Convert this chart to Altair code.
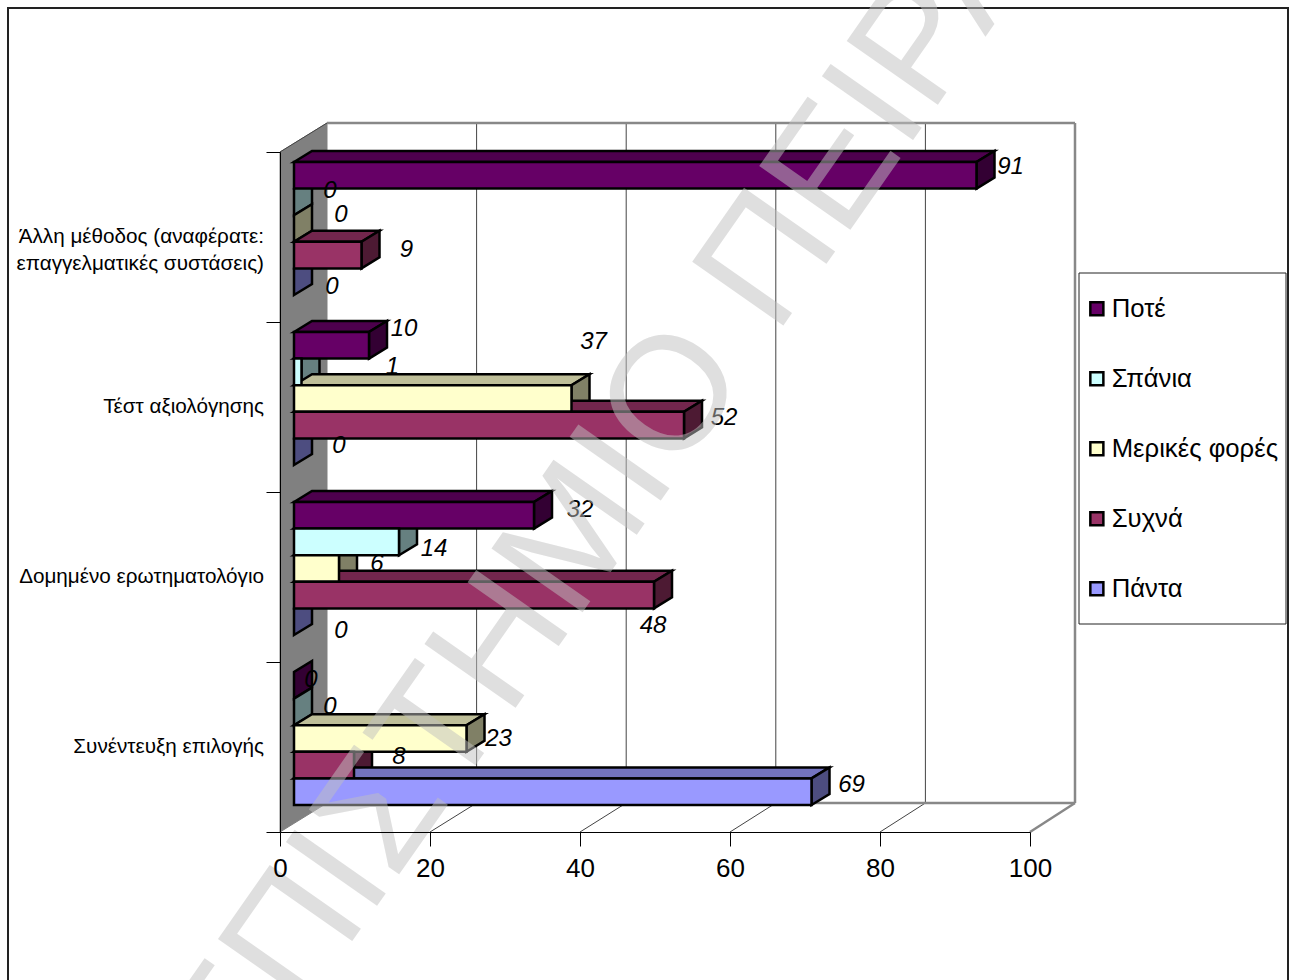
import altair as alt
import pandas as pd

# Survey answers per selection method
categories = ["Συνέντευξη επιλογής", "Δομημένο ερωτηματολόγιο", "Τέστ αξιολόγησης",
              "Άλλη μέθοδος (αναφέρατε:\nεπαγγελματικές συστάσεις)"]
series = ["Πάντα", "Συχνά", "Μερικές φορές", "Σπάνια", "Ποτέ"]
always = [69, 0, 0, 0]
often = [8, 48, 52, 9]
sometimes = [23, 6, 37, 0]
rarely = [0, 14, 1, 0]
never = [0, 32, 10, 91]
values = [always, often, sometimes, rarely, never]
axis_ticks = [0, 20, 40, 60, 80, 100]

front_colours = ["#9999ff", "#993366", "#ffffcc", "#ccffff", "#660066"]
top_colours = ["#7373bf", "#73264d", "#bfbf99", "#99bfbf", "#4d004d"]
side_colours = ["#4d4d80", "#4d1a33", "#808066", "#668080", "#330033"]

# Pixel nudges for the value labels, relative to each bar's end (category, then series)
label_dx = [[40, 45, 32, 36, 17], [47, -1, 38, 35, 46], [45, 40, 22, 91, 35], [38, 45, 47, 36, 34]]
label_dy = [[-7, -8, 0, -5, -5], [9, 31, -5, 7, -5], [-6, -7, -57, -5, -16], [5, -5, -14, -11, -8]]

# Scales: one x unit is 7.5 px, one category slot is 170 px
PX_X = 7.5
PX_Y = 170.0
xs = alt.Scale(domain=[0, 100], range=[280, 1030])
ys = alt.Scale(domain=[0, 4], range=[832, 152])

x_axis = alt.Axis(values=axis_ticks, grid=False, title=None, offset=-148, zindex=1,
                  labelFontSize=26, labelFont="Liberation Sans", labelColor="black",
                  labelPadding=9, tickSize=14, tickColor="black", domainColor="black",
                  labelFlush=False, labelOverlap=False)
y_axis = alt.Axis(values=[0, 1, 2, 3, 4], grid=False, title=None, offset=-280, zindex=1,
                  labels=False, tickSize=14, tickColor="black", domainColor="black")

WALL_DX = 47 / PX_X
WALL_DY = 29 / PX_Y
BACK_SCALE = 748 / 750
BAR_X0 = 14 / PX_X
BAR_DX = 18 / PX_X
BAR_DY = 11 / PX_Y
BAR_H = 26.6 / PX_Y
BAR_Y0 = 27 / PX_Y

# Upper and end faces are painted first, front faces last, so fronts hide what is behind them
back_faces = []
front_faces = []


def add_face(store, colour, samples):
    fid = f"{'b' if store is back_faces else 'f'}{len(store):03d}"
    for x, y, y2 in samples:
        store.append({"face": fid, "fill": colour, "x": x, "y": y, "y2": y2})


for c in range(3, -1, -1):
    for s in range(4, -1, -1):
        v = values[s][c]
        lo = c + BAR_Y0 + s * BAR_H
        hi = lo + BAR_H
        x0 = BAR_X0
        x1 = BAR_X0 + v
        if v > 0:
            # upper face: a sheared band that may be shorter than the depth
            pts = sorted({x0, x1, x0 + BAR_DX, x1 + BAR_DX})
            add_face(back_faces, top_colours[s], [
                (p,
                 hi + BAR_DY * min((p - x0) / BAR_DX, 1),
                 hi + BAR_DY * max((p - x1) / BAR_DX, 0)) for p in pts])
            add_face(front_faces, front_colours[s], [(x0, lo, hi), (x1, lo, hi)])
        add_face(back_faces, side_colours[s], [(x1, lo, hi), (x1 + BAR_DX, lo + BAR_DY, hi + BAR_DY)])

face_df = pd.DataFrame(back_faces + front_faces)

label_rows = []
for c in range(4):
    for s in range(5):
        v = values[s][c]
        label_rows.append({
            "x": BAR_X0 + v + label_dx[c][s] / PX_X,
            "y": c + BAR_Y0 + (s + 0.5) * BAR_H - label_dy[c][s] / PX_Y,
            "text": str(v),
        })
label_df = pd.DataFrame(label_rows)

cat_df = pd.DataFrame({"pos": [i + 0.5 for i in range(4)], "name": categories})

wall_df = pd.DataFrame({"x": [0, WALL_DX], "y": [0, WALL_DY], "y2": [4, 4 + WALL_DY]})


def segs(rows):
    return pd.DataFrame(rows, columns=["x", "x2", "y", "y2"])


def back_x(t):
    return WALL_DX + t * BACK_SCALE


top_y = 4 + WALL_DY
grid_df = segs([(back_x(t), back_x(t), WALL_DY, top_y) for t in axis_ticks[1:-1]]
               + [(t, back_x(t), 0, WALL_DY) for t in axis_ticks[1:-1]]
               + [(0, WALL_DX, 4, top_y)])
border_df = segs([(back_x(0), back_x(100), top_y, top_y),
                  (back_x(100), back_x(100), WALL_DY, top_y),
                  (back_x(0), back_x(100), WALL_DY, WALL_DY),
                  (100, back_x(100), 0, WALL_DY)])


def rule_layer(df, colour, width):
    return alt.Chart(df).mark_rule(color=colour, strokeWidth=width).encode(
        x=alt.X("x:Q", scale=xs, axis=x_axis), x2="x2:Q",
        y=alt.Y("y:Q", scale=ys, axis=y_axis), y2="y2:Q")


one_row = alt.Data(values=[{"k": 1}])

frame = alt.Chart(one_row).mark_rect(fill="white", stroke="#222222", strokeWidth=2).encode(
    x=alt.value(8), x2=alt.value(1288), y=alt.value(8), y2=alt.value(990))

wall = alt.Chart(wall_df).mark_area(fill="#808080", stroke="#808080", strokeWidth=1).encode(
    x=alt.X("x:Q", scale=xs, axis=x_axis),
    y=alt.Y("y:Q", scale=ys, stack=None, axis=y_axis),
    y2="y2:Q")

bars = alt.Chart(face_df).mark_area(stroke="black", strokeWidth=2.5, strokeJoin="miter").encode(
    x=alt.X("x:Q", scale=xs, axis=x_axis),
    y=alt.Y("y:Q", scale=ys, axis=y_axis, stack=None),
    y2="y2:Q",
    fill=alt.Fill("fill:N", scale=None),
    detail="face:N")

value_labels = alt.Chart(label_df).mark_text(
    font="Liberation Sans", fontSize=24, fontStyle="italic", color="black").encode(
    x=alt.X("x:Q", scale=xs, axis=x_axis),
    y=alt.Y("y:Q", scale=ys, axis=y_axis),
    text="text:N")

cat_labels = alt.Chart(cat_df).mark_text(
    font="Liberation Sans", fontSize=20.7, align="right", lineBreak="\n", lineHeight=27,
    color="black").encode(
    x=alt.value(264),
    y=alt.Y("pos:Q", scale=ys, axis=y_axis),
    text="name:N")

legend_box = alt.Chart(one_row).mark_rect(fill="white", stroke="#222222", strokeWidth=1).encode(
    x=alt.value(1079), x2=alt.value(1286), y=alt.value(273), y2=alt.value(624))

legend_src = alt.Chart(pd.DataFrame({"series": series})).mark_square(opacity=0).encode(
    x=alt.value(-50), y=alt.value(-50),
    color=alt.Color("series:N",
                    scale=alt.Scale(domain=series[::-1], range=front_colours[::-1]),
                    legend=alt.Legend(orient="none", legendX=1084, legendY=296, title=None,
                                      symbolType="square", symbolSize=170, symbolOpacity=1,
                                      symbolStrokeColor="black", symbolStrokeWidth=2.5,
                                      labelFont="Liberation Sans", labelFontSize=25.7,
                                      labelColor="black", labelOffset=2, rowPadding=43,
                                      labelLimit=300, padding=0)))

watermark = alt.Chart(one_row).mark_text(
    text="ΠΑΝΕΠΙΣΤΗΜΙΟ ΠΕΙΡΑΙΑ", font="Liberation Sans", fontSize=161.6, angle=305,
    align="center", baseline="middle", color="#c0c0c0", opacity=0.5).encode(
    x=alt.value(550), y=alt.value(575))

chart = alt.layer(
    frame, wall, rule_layer(grid_df, "#444444", 1), rule_layer(border_df, "#888888", 2.5),
    bars, value_labels, cat_labels, legend_box, legend_src, watermark
).properties(
    width=1296, height=980, padding=0, background="white",
    autosize=alt.AutoSizeParams(type="none")
).configure_view(stroke=None)

chart.save("out.html", embed_options={"renderer": "svg", "actions": False})
